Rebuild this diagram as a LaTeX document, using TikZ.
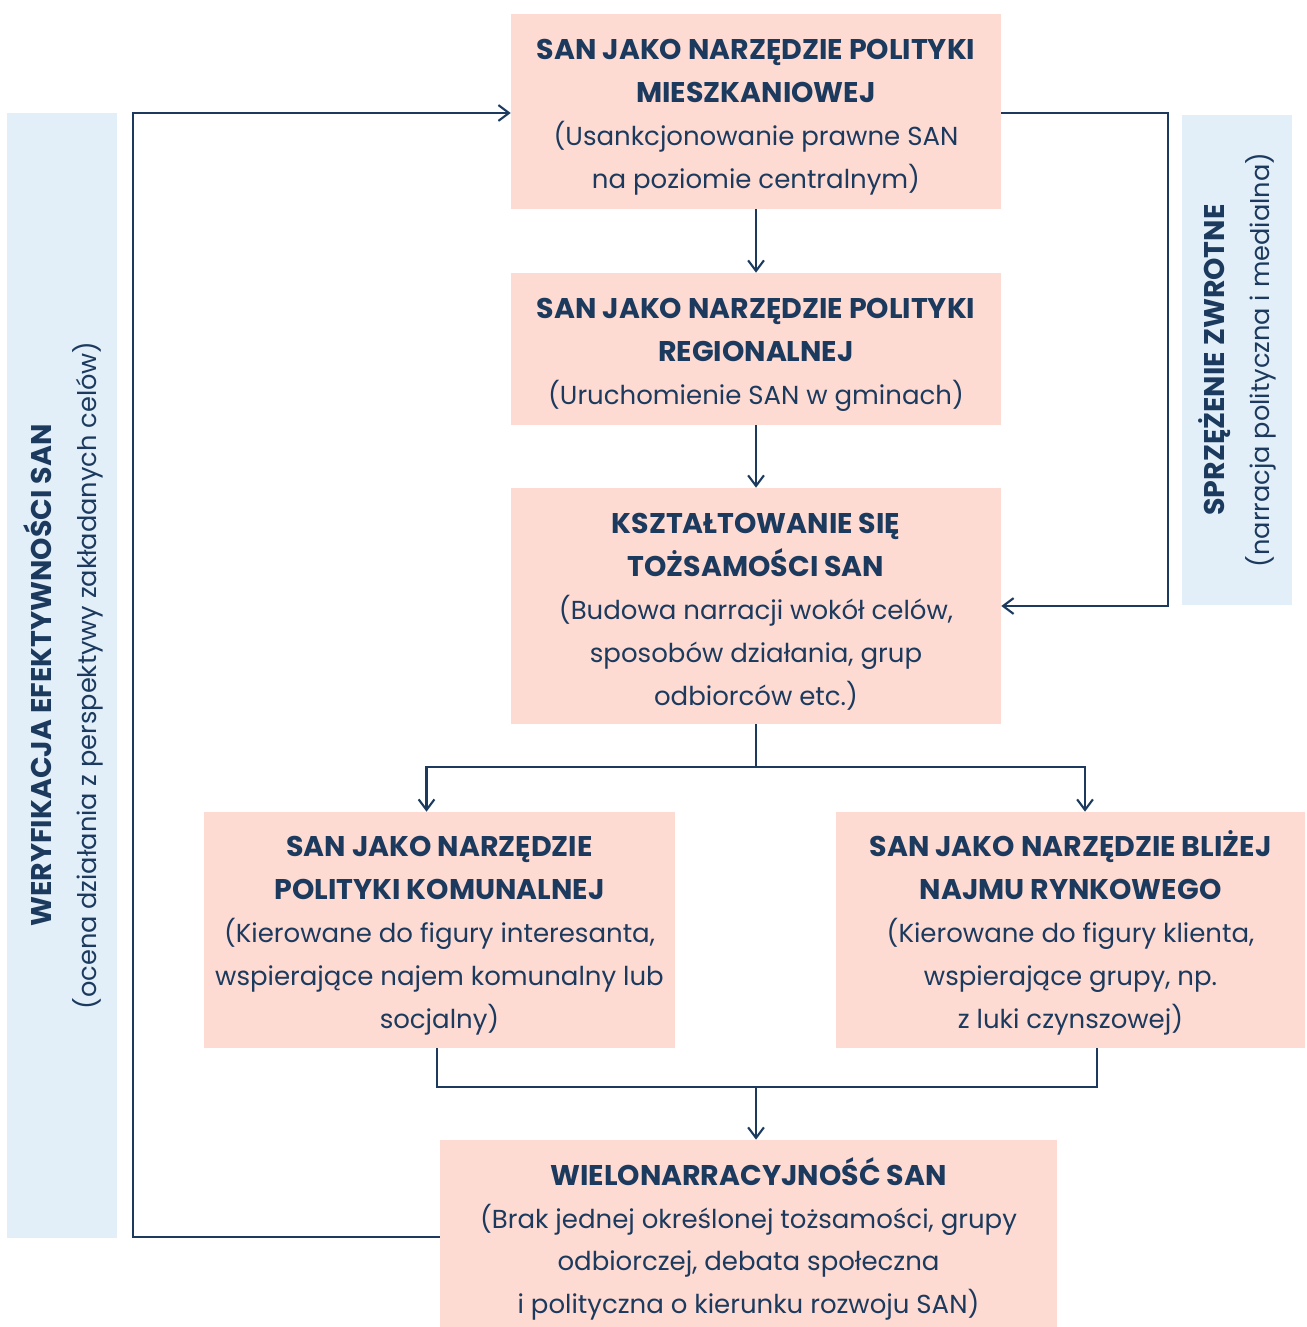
\documentclass[tikz,border=0pt]{standalone}
\usepackage{fontspec}
\setmainfont{Poppins}
\usepackage{tikz}
\usetikzlibrary{arrows.meta, positioning}

\definecolor{boxpink}{HTML}{FDDAD2}
\definecolor{panelblue}{HTML}{E2EEF8}
\definecolor{navy}{HTML}{1B3A5E}

\newcommand{\sidetitle}[1]{{\fontsize{16.2}{24.4}\selectfont\bfseries #1}}
\newcommand{\boxtitle}[1]{{\fontsize{16.2}{24.4}\selectfont\bfseries\rule{0pt}{18pt}#1}}

\tikzset{
    box/.style={rectangle, fill=boxpink, text=navy, align=center, inner sep=0pt,
        font=\fontsize{14.8}{24.4}\selectfont},
    panel/.style={rectangle, fill=panelblue, inner sep=0pt},
    sidetext/.style={rotate=90, text=navy, align=center,
        font=\fontsize{14.6}{25.5}\selectfont},
    arr/.style={draw=navy, line width=1.2pt, -{Straight Barb[length=6pt, width=9pt, line width=1.2pt]}},
    line/.style={draw=navy, line width=1.2pt}
}

\begin{document}
\begin{tikzpicture}[x=0.02cm, y=-0.02cm]
        \useasboundingbox (0,0) rectangle (1306,1327);

        % side panels
        \node[panel, minimum width=2.2cm, minimum height=22.5cm] (pleft) at (62,675.5) {};
        \node[panel, minimum width=2.2cm, minimum height=9.8cm] (pright) at (1237,360) {};
        \node[sidetext] (tleft) at ([xshift=0.03cm]pleft.center) {\sidetitle{WERYFIKACJA EFEKTYWNOŚCI SAN}\\(ocena działania z perspektywy zakładanych celów)};
        \node[sidetext] (tright) at (pright.center) {\sidetitle{SPRZĘŻENIE ZWROTNE}\\(narracja polityczna i medialna)};

        % boxes
        \node[box, minimum width=9.8cm, minimum height=3.9cm] (b1) at (756,111.5)
            {\boxtitle{SAN JAKO NARZĘDZIE POLITYKI}\\\boxtitle{MIESZKANIOWEJ}\\(Usankcjonowanie prawne SAN\\na poziomie centralnym)};
        \node[box, minimum width=9.8cm, minimum height=3.04cm] (b2) at (756,349)
            {\boxtitle{SAN JAKO NARZĘDZIE POLITYKI}\\\boxtitle{REGIONALNEJ}\\(Uruchomienie SAN w gminach)};
        \node[box, minimum width=9.8cm, minimum height=4.72cm] (b3) at (756,606)
            {\boxtitle{KSZTAŁTOWANIE SIĘ}\\\boxtitle{TOŻSAMOŚCI SAN}\\(Budowa narracji wokół celów,\\sposobów działania, grup\\odbiorców etc.)};
        \node[box, minimum width=9.42cm, minimum height=4.72cm] (b4) at (439.5,930)
            {\boxtitle{SAN JAKO NARZĘDZIE}\\\boxtitle{POLITYKI KOMUNALNEJ}\\(Kierowane do figury interesanta,\\wspierające najem komunalny lub\\socjalny)};
        \node[box, minimum width=9.38cm, minimum height=4.72cm] (b5) at (1070.5,930)
            {\boxtitle{SAN JAKO NARZĘDZIE BLIŻEJ}\\\boxtitle{NAJMU RYNKOWEGO}\\(Kierowane do figury klienta,\\wspierające grupy, np.\\z luki czynszowej)};
        \node[box, minimum width=12.34cm, minimum height=3.74cm] (b6) at (748.5,1233.5)
            {\rule{0pt}{22pt}\boxtitle{WIELONARRACYJNOŚĆ SAN}\\(Brak jednej określonej tożsamości, grupy\\odbiorczej, debata społeczna\\i polityczna o kierunku rozwoju SAN)};

        % helper points
        \coordinate (split) at (756,767);
        \coordinate (merge) at (756,1087);
        \coordinate (fbr) at (1168,360);
        \coordinate (fbl) at (133,675);

        % connectors
        \draw[arr] (b1) -- (b2);
        \draw[arr] (b2) -- (b3);
        \draw[line] (b3.south) -- (split);
        \draw[arr] (split) -| ([xshift=-0.26cm]b4.north);
        \draw[arr] (split) -| ([xshift=0.29cm]b5.north);
        \draw[line] ([xshift=-0.05cm]b4.south) |- (merge);
        \draw[line] ([xshift=0.53cm]b5.south) |- (merge);
        \draw[arr] (merge) -- (merge |- b6.north);
        \draw[arr] ([yshift=-0.03cm]b1.east) -| (fbr) |- (b3.east);
        \draw[arr] ([yshift=-0.07cm]b6.west) -| (fbl) |- ([yshift=-0.03cm]b1.west);
    \end{tikzpicture}
\end{document}
